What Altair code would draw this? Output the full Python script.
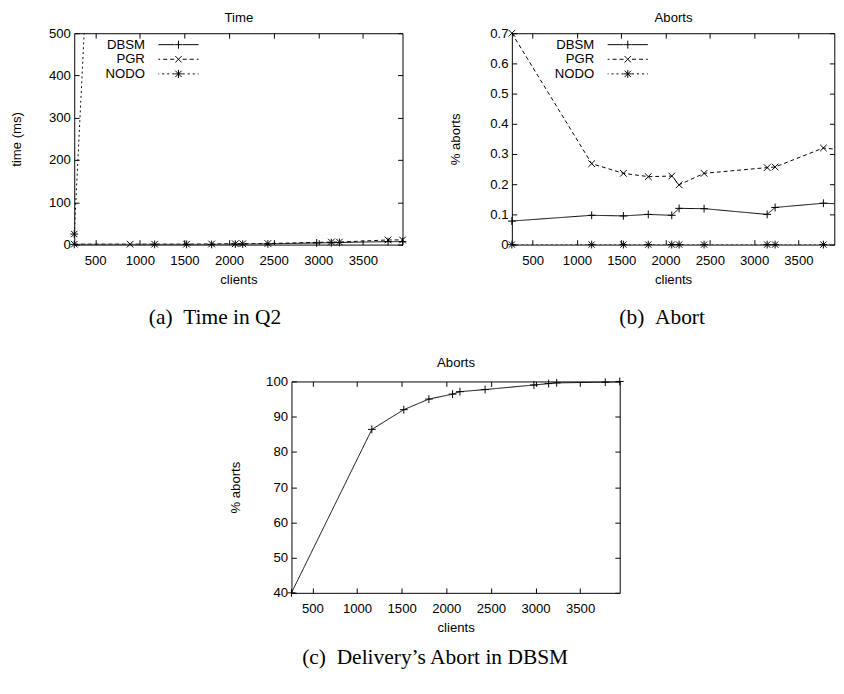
import altair as alt
import pandas as pd

SERIES = ["DBSM", "PGR", "NODO"]

# ---- Panel (a): Time in Q2 ----
a_dbsm_x = [265, 1166, 1524, 1805, 2070, 2153, 2435, 2982, 3147, 3237, 3782, 3944]
a_dbsm_y = [0.5, 0.5, 0.5, 0.5, 1, 1, 1.5, 4, 4.5, 5, 7, 7]
a_pgr_x = [265, 891, 1166, 1524, 1805, 2070, 2153, 2435, 3147, 3237, 3782, 3944]
a_pgr_y = [1, 1, 1, 1, 1.5, 2, 2, 2.5, 6, 6, 11, 11]
a_nodo_x = [265, 891]
a_nodo_y = [25, 2700]

# ---- Panel (b): Abort ----
b_x = [265, 1166, 1524, 1805, 2070, 2153, 2435, 3147, 3237, 3782, 3944]
b_dbsm = [0.078, 0.097, 0.095, 0.100, 0.097, 0.120, 0.119, 0.100, 0.123, 0.137, 0.135]
b_pgr = [0.70, 0.268, 0.236, 0.225, 0.227, 0.198, 0.236, 0.255, 0.257, 0.320, 0.315]
b_nodo = [0, 0, 0, 0, 0, 0, 0, 0, 0, 0, 0]

# ---- Panel (c): Delivery's Abort in DBSM ----
c_x = [265, 1166, 1524, 1805, 2070, 2153, 2435, 2982, 3147, 3237, 3782, 3944]
c_y = [40, 86.4, 92.0, 95.0, 96.4, 97.1, 97.7, 99.0, 99.4, 99.6, 99.8, 100]

X_TICKS = [500, 1000, 1500, 2000, 2500, 3000, 3500]
X_DOMAIN_A = [265, 3944]
X_DOMAIN_B = [265, 3905]   # right part of panel (b) is cut by the page edge

FONT = "Liberation Sans"
SERIF = "Liberation Serif"
FS = 13.5
CAP_FS = 22
H = 217
T = 5

DASHES = [[1, 0], [4, 3], [2, 3]]
MARKERS = [
    "M-1,0L1,0M0,-1L0,1",
    "M-0.85,-0.85L0.85,0.85M-0.85,0.85L0.85,-0.85",
    "M-1,0L1,0M0,-1L0,1M-0.8,-0.8L0.8,0.8M-0.8,0.8L0.8,-0.8",
]


# legend key: line sample with marker, drawn to the right of the right-aligned label
def _key(on, off, marker):
    s = 4.85          # px per path unit at legend symbol size 100
    c = 40.0 / s      # key centre, right of the symbol origin
    half = 20 / s
    gap = 4.2 / s
    parts = []
    for sign in (-1, 1):
        pos = gap
        while pos < half:
            end = min(pos + on / s, half)
            a, b = c + sign * pos, c + sign * end
            parts.append(f"M{a:.2f},0L{b:.2f},0")
            pos = end + off / s
    m = 4 / s
    d = 0.8 * m
    if marker == "+":
        parts.append(f"M{c - m:.2f},0L{c + m:.2f},0M{c:.2f},{-m:.2f}L{c:.2f},{m:.2f}")
    elif marker == "x":
        parts.append(f"M{c - d:.2f},{-d:.2f}L{c + d:.2f},{d:.2f}M{c - d:.2f},{d:.2f}L{c + d:.2f},{-d:.2f}")
    else:
        parts.append(f"M{c - m:.2f},0L{c + m:.2f},0M{c:.2f},{-m:.2f}L{c:.2f},{m:.2f}"
                     f"M{c - d:.2f},{-d:.2f}L{c + d:.2f},{d:.2f}M{c - d:.2f},{d:.2f}L{c + d:.2f},{-d:.2f}")
    return "".join(parts)


LEG_SYMBOLS = [_key(100, 0, "+"), _key(4, 3, "x"), _key(2, 3, "*")]


def long_df(pairs):
    rows = []
    for name, xs, ys in pairs:
        for xv, yv in zip(xs, ys):
            rows.append({"x": xv, "y": yv, "series": name})
    return pd.DataFrame(rows)


def panel(df, width, xdom, ydom, yticks, yfmt, ytitle, title_x, top_title, top_pad, caption,
          cap_dx, cap_offset, legend=None):
    xs = alt.Scale(domain=xdom, nice=False, zero=False)
    ys = alt.Scale(domain=ydom, nice=False, zero=False)
    x_bottom = alt.Axis(values=X_TICKS, format="d", offset=-T, tickSize=T, domain=False, grid=False,
                        labelPadding=9.5, title="clients", titlePadding=5.5, labelFlush=False)
    y_left = alt.Axis(values=yticks, format=yfmt, offset=-T, tickSize=T, domain=False, grid=False,
                      labelPadding=4, title=ytitle, titleX=title_x, titleY=H / 2)
    x_top = alt.Axis(orient="top", values=X_TICKS, offset=-T, tickSize=T, domain=False, grid=False,
                     labels=False, title=top_title, titlePadding=top_pad)
    y_right = alt.Axis(orient="right", values=yticks, offset=-T, tickSize=T, domain=False, grid=False,
                       labels=False, title=None, minExtent=0, maxExtent=0)
    in_view = f"datum.y <= {ydom[1]} && datum.x <= {xdom[1]}"

    lines = alt.Chart(df).mark_line(clip=True, color="black", strokeWidth=1).encode(
        x=alt.X("x:Q", scale=xs, axis=x_bottom),
        y=alt.Y("y:Q", scale=ys, axis=y_left),
        strokeDash=alt.StrokeDash("series:N", scale=alt.Scale(domain=SERIES, range=DASHES), legend=None),
        order="x:Q",
    )
    points = alt.Chart(df).transform_filter(in_view).mark_point(
        filled=False, color="black", strokeWidth=1, size=64, opacity=1
    ).encode(
        x=alt.X("x:Q", scale=xs, axis=None),
        y=alt.Y("y:Q", scale=ys, axis=None),
        shape=alt.Shape("series:N", scale=alt.Scale(domain=SERIES, range=MARKERS), legend=None),
    )
    mirror = alt.Chart(df).transform_filter(in_view).mark_point(opacity=0, clip=True).encode(
        x=alt.X("x:Q", scale=xs, axis=x_top),
        y=alt.Y("y:Q", scale=ys, axis=y_right),
    )
    layers = [lines, points, mirror]
    if legend is not None:
        lx, ly = legend
        leg = alt.Chart(df).transform_filter("false").mark_point(
            filled=False, color="black", strokeWidth=1, opacity=1
        ).encode(
            x=alt.X("x:Q", scale=xs, axis=None),
            y=alt.Y("y:Q", scale=ys, axis=None),
            shape=alt.Shape("series:N", scale=alt.Scale(domain=SERIES, range=LEG_SYMBOLS),
                            legend=alt.Legend(orient="none", legendX=lx, legendY=ly, title=None,
                                              labelAlign="right", labelOffset=0, symbolSize=100,
                                              symbolStrokeWidth=1, symbolStrokeColor="black",
                                              symbolFillColor="transparent", rowPadding=0, padding=0,
                                              labelFont=FONT, labelFontSize=FS, labelColor="black")),
        )
        layers.append(leg)
    ch = alt.layer(*layers).resolve_scale(shape="independent").resolve_axis(
        x="independent", y="independent"
    ).properties(
        width=width, height=H,
        title=alt.TitleParams(caption, orient="bottom", frame="bounds", offset=cap_offset, dx=cap_dx,
                              font=SERIF, fontSize=CAP_FS, fontWeight="normal", color="black"),
    )
    return ch


df_a = long_df([("DBSM", a_dbsm_x, a_dbsm_y), ("PGR", a_pgr_x, a_pgr_y), ("NODO", a_nodo_x, a_nodo_y)])
df_b = long_df([("DBSM", b_x, b_dbsm), ("PGR", b_x, b_pgr), ("NODO", b_x, b_nodo)])
df_c = long_df([("DBSM", c_x, c_y)])

pa = panel(df_a, 337, X_DOMAIN_A, [0, 500], [0, 100, 200, 300, 400, 500], "d", "time (ms)", -57,
           "Time", 9, "(a)\u00a0\u00a0Time in Q2", 6, 23, legend=(59, 5))
pb = panel(df_b, 331, X_DOMAIN_B, [0, 0.7], [0, 0.1, 0.2, 0.3, 0.4, 0.5, 0.6, 0.7], ".1~f",
           "% aborts", -56, "Aborts", 9, "(b)\u00a0\u00a0Abort", 21, 23, legend=(71, 5))
pc = panel(df_c, 337, X_DOMAIN_A, [40, 100], [40, 50, 60, 70, 80, 90, 100], "d", "% aborts", -55,
           "Aborts", 12, "(c)\u00a0\u00a0Delivery\u2019s Abort in DBSM", 8, 14)

spacer = alt.Chart(df_c).mark_point(opacity=0, clip=True).encode(
    x=alt.X("x:Q", axis=None), y=alt.Y("y:Q", axis=None)
).properties(width=157, height=10, view=alt.ViewBackground(stroke="transparent"))

chart = alt.vconcat(
    alt.hconcat(pa, pb, spacing=39.25),
    alt.hconcat(spacer, pc, spacing=0),
    spacing=26.5,
).properties(
    padding={"left": 1, "top": -7, "right": 0, "bottom": 0},
    background="white",
).configure_view(
    stroke="black", strokeWidth=1
).configure_axis(
    labelFont=FONT, titleFont=FONT, labelFontSize=FS, titleFontSize=FS,
    titleFontWeight="normal", labelColor="black", titleColor="black",
    tickColor="black", tickWidth=1,
)

chart.save("out.html", embed_options={"renderer": "svg", "actions": False})
